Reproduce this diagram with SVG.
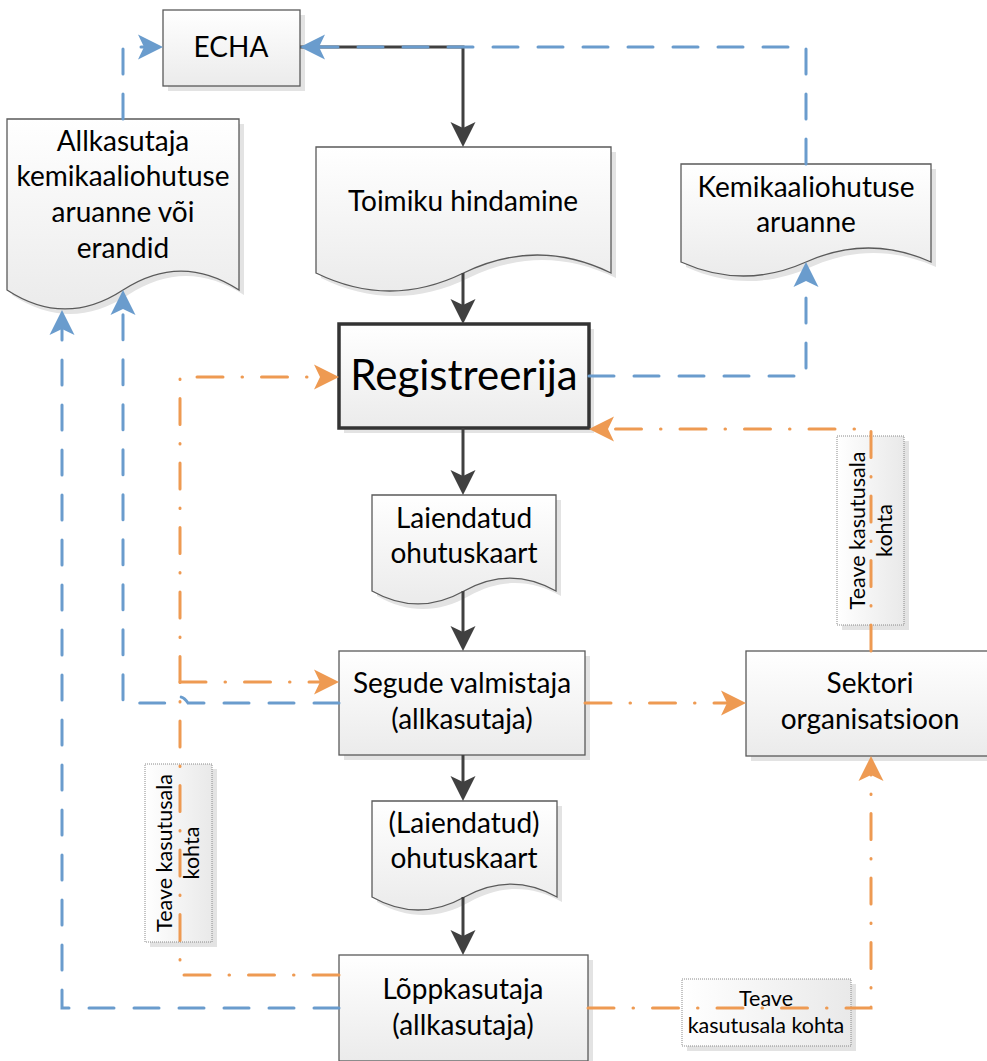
<svg xmlns="http://www.w3.org/2000/svg" width="987" height="1061" viewBox="0 0 987 1061">
<defs>
<linearGradient id="gv" x1="0" y1="0" x2="0" y2="1"><stop offset="0" stop-color="#ffffff"/><stop offset="1" stop-color="#ebebeb"/></linearGradient>
<linearGradient id="gh" x1="0" y1="0" x2="1" y2="0"><stop offset="0" stop-color="#ffffff"/><stop offset="1" stop-color="#e9e9e9"/></linearGradient>
<marker id="ad" viewBox="-26 -13 27 26" refX="-10" refY="0" markerWidth="27" markerHeight="26" markerUnits="userSpaceOnUse" orient="auto"><path d="M-25,-12.5 L0,0 L-25,12.5 L-19,0 Z" fill="#404040"/></marker>
<marker id="ab" viewBox="-26 -13 27 26" refX="-10" refY="0" markerWidth="27" markerHeight="26" markerUnits="userSpaceOnUse" orient="auto"><path d="M-25,-12.5 L0,0 L-25,12.5 L-19,0 Z" fill="#6a9ccd"/></marker>
<marker id="ao" viewBox="-26 -13 27 26" refX="-10" refY="0" markerWidth="27" markerHeight="26" markerUnits="userSpaceOnUse" orient="auto"><path d="M-25,-12.5 L0,0 L-25,12.5 L-19,0 Z" fill="#ee9a52"/></marker>
</defs>
<style>
.sh{fill:#e3e3e3}
.bx{fill:url(#gv);stroke:#5a5a5a;stroke-width:1.3}
.reg{fill:url(#gv);stroke:#333333;stroke-width:3.5}
.lb{fill:url(#gh);stroke:#8a8a8a;stroke-width:1;stroke-dasharray:1 1}
.t{font-family:Lato,"Liberation Sans",sans-serif;font-size:28px;fill:#000;text-anchor:middle}
.tl{font-family:Lato,"Liberation Sans",sans-serif;font-size:21.5px;fill:#000;text-anchor:middle}
.tr{font-family:Lato,"Liberation Sans",sans-serif;font-size:42px;fill:#000;text-anchor:middle}
.cd{fill:none;stroke:#404040;stroke-width:3;marker-end:url(#ad)}
.cb{fill:none;stroke:#6a9ccd;stroke-width:3;stroke-linecap:round;stroke-dasharray:25 20;marker-end:url(#ab)}
.co{fill:none;stroke:#ee9a52;stroke-width:3;stroke-linecap:round;stroke-dasharray:26 19 0.5 19;marker-end:url(#ao)}
</style>
<rect width="987" height="1061" fill="#ffffff"/>

<g id="echa">
<rect class="sh" x="168" y="15" width="137" height="76"/>
<rect class="bx" x="163" y="10" width="137" height="76"/>
<text class="t" x="231" y="57">ECHA</text>
</g>

<g id="allkasutaja-aruanne">
<path class="sh" transform="translate(5,5)" d="M7,119 H239 V290 C200.3,264.7 161.7,264.7 123,290 C84.3,315.3 45.7,315.3 7,290 Z"/>
<path class="bx" d="M7,119 H239 V290 C200.3,264.7 161.7,264.7 123,290 C84.3,315.3 45.7,315.3 7,290 Z"/>
<text class="t" x="123" y="151">Allkasutaja</text>
<text class="t" x="123" y="186">kemikaaliohutuse</text>
<text class="t" x="123" y="222">aruanne või</text>
<text class="t" x="123" y="258">erandid</text>
</g>

<g id="toimiku">
<path class="sh" transform="translate(5,5)" d="M316,147 H611 V273 C561.8,249 512.7,249 463.5,273 C414.3,297 365.2,297 316,273 Z"/>
<path class="bx" d="M316,147 H611 V273 C561.8,249 512.7,249 463.5,273 C414.3,297 365.2,297 316,273 Z"/>
<text class="t" x="463" y="211">Toimiku hindamine</text>
</g>

<g id="kemikaaliohutuse-aruanne">
<path class="sh" transform="translate(5,5)" d="M681,164 H931 V262 C889.3,243.3 847.7,243.3 806,262 C764.3,280.7 722.7,280.7 681,262 Z"/>
<path class="bx" d="M681,164 H931 V262 C889.3,243.3 847.7,243.3 806,262 C764.3,280.7 722.7,280.7 681,262 Z"/>
<text class="t" x="806" y="197">Kemikaaliohutuse</text>
<text class="t" x="806" y="232">aruanne</text>
</g>

<g id="registreerija">
<rect class="sh" x="344" y="329" width="250" height="104"/>
<rect class="reg" x="339" y="324" width="250" height="104"/>
<text class="tr" x="464" y="390">Registreerija</text>
</g>

<g id="laiendatud-ohutuskaart">
<path class="sh" transform="translate(5,5)" d="M372,495 H556 V591 C525.3,573.7 494.7,573.7 464,591 C433.3,608.3 402.7,608.3 372,591 Z"/>
<path class="bx" d="M372,495 H556 V591 C525.3,573.7 494.7,573.7 464,591 C433.3,608.3 402.7,608.3 372,591 Z"/>
<text class="t" x="464" y="528">Laiendatud</text>
<text class="t" x="464" y="563">ohutuskaart</text>
</g>

<g id="segude-valmistaja">
<rect class="sh" x="344" y="656" width="246" height="104"/>
<rect class="bx" x="339" y="651" width="246" height="104"/>
<text class="t" x="462" y="693">Segude valmistaja</text>
<text class="t" x="462" y="729">(allkasutaja)</text>
</g>

<g id="laiendatud-ohutuskaart-2">
<path class="sh" transform="translate(5,5)" d="M372,801 H557 V897 C526.2,879.7 495.5,879.7 464.5,897 C433.7,914.3 402.8,914.3 372,897 Z"/>
<path class="bx" d="M372,801 H557 V897 C526.2,879.7 495.5,879.7 464.5,897 C433.7,914.3 402.8,914.3 372,897 Z"/>
<text class="t" x="464" y="833">(Laiendatud)</text>
<text class="t" x="464" y="868">ohutuskaart</text>
</g>

<g id="loppkasutaja">
<rect class="sh" x="344" y="960" width="249" height="106"/>
<rect class="bx" x="339" y="955" width="249" height="106"/>
<text class="t" x="463" y="999">Lõppkasutaja</text>
<text class="t" x="463" y="1035">(allkasutaja)</text>
</g>

<g id="sektori-organisatsioon">
<rect class="sh" x="751" y="656" width="248" height="105"/>
<rect class="bx" x="746" y="651" width="248" height="105"/>
<text class="t" x="870" y="693">Sektori</text>
<text class="t" x="870" y="729">organisatsioon</text>
</g>

<g id="label-right">
<rect class="sh" x="842" y="441" width="67" height="189"/>
<rect class="lb" x="837" y="436" width="67" height="189"/>
<g transform="translate(870.5,530.5) rotate(-90)">
<text class="tl" x="0" y="-6">Teave kasutusala</text>
<text class="tl" x="0" y="21">kohta</text>
</g>
</g>

<g id="label-left">
<rect class="sh" x="150" y="769" width="67" height="178"/>
<rect class="lb" x="145" y="764" width="67" height="178"/>
<g transform="translate(178.5,853) rotate(-90)">
<text class="tl" x="0" y="-7">Teave kasutusala</text>
<text class="tl" x="0" y="20">kohta</text>
</g>
</g>

<g id="label-bottom">
<rect class="sh" x="687" y="984" width="169" height="67"/>
<rect class="lb" x="682" y="979" width="169" height="67"/>
<text class="tl" x="766" y="1006">Teave</text>
<text class="tl" x="766" y="1033">kasutusala kohta</text>
</g>

<g id="connectors">
<path class="cd" d="M300,47 H463 V137"/>
<path class="cd" d="M463,273 V314"/>
<path class="cd" d="M463,428 V485"/>
<path class="cd" d="M463,591 V641"/>
<path class="cd" d="M463,755 V791"/>
<path class="cd" d="M463,897 V945"/>

<path class="cb" d="M123,119 V47 H153"/>
<path class="cb" d="M806,164 V47 H310"/>
<path class="cb" d="M589,376 H806 V272"/>
<path class="cb" d="M339,703 H188 Q184,697 180,697 L176,697 Q174,703 172,703 H123 V300"/>
<path class="cb" d="M339,1008 H62 V320"/>

<path class="co" d="M339,975 H180 V377 H329"/>
<path class="co" d="M180,682 H329"/>
<path class="co" d="M585,703 H736"/>
<path class="co" d="M871,651 V429 H599"/>
<path class="co" d="M588,1008 H871 V766"/>
</g>
</svg>
